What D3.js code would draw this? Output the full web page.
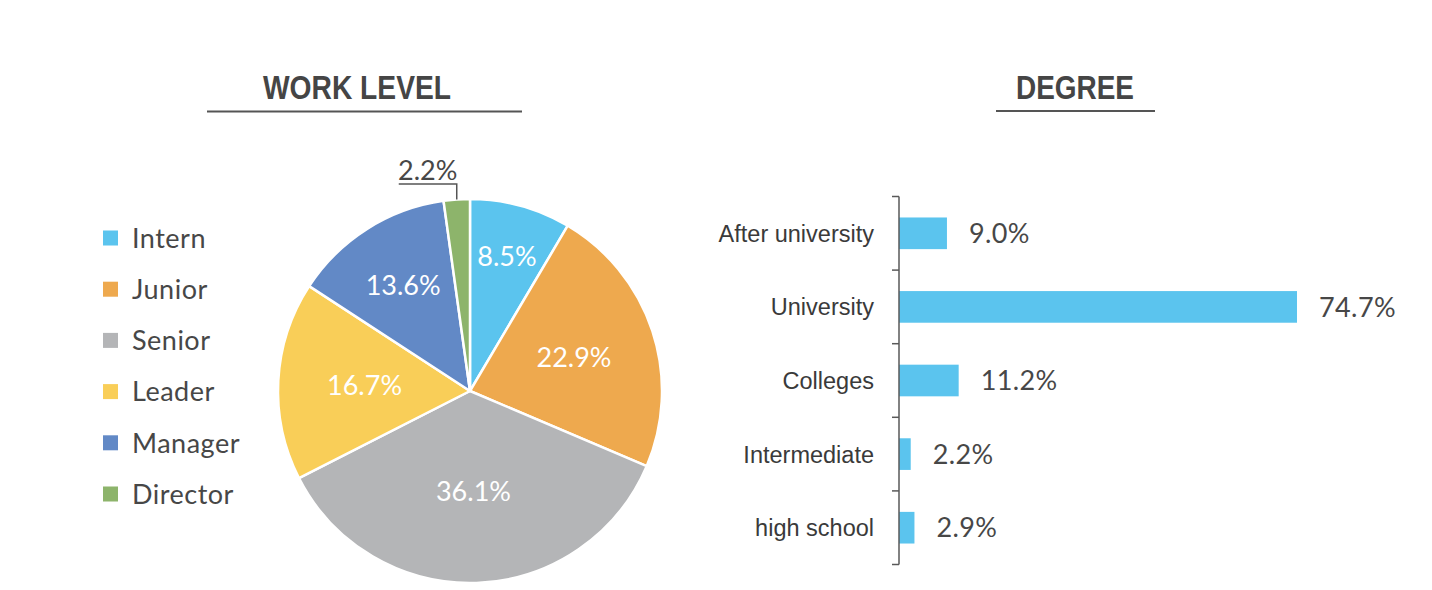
<!DOCTYPE html>
<html>
<head>
<meta charset="utf-8">
<script src="https://cdn.jsdelivr.net/npm/d3@7"></script>
<style>
  html, body { margin: 0; padding: 0; background: #fff; }
  svg { display: block; }
</style>
</head>
<body>
<svg id="chart" width="1432" height="590"></svg>
<script>
// ---- Data ----
const levelCategories = ["Intern", "Junior", "Senior", "Leader", "Manager", "Director"];
const levelValues = [8.5, 22.9, 36.1, 16.7, 13.6, 2.2];
const levelColors = ["#5BC4EE", "#EEA94E", "#B4B5B7", "#F9CE58", "#6289C6", "#8DB46B"];

const degreeCategories = ["After university", "University", "Colleges", "Intermediate", "high school"];
const degreeValues = [9.0, 74.7, 11.2, 2.2, 2.9];

const titles = ["WORK LEVEL", "DEGREE"];

// ---- Styles / layout ----
const roundFont = "Lato, 'Noto Sans', sans-serif";
const roundWeight = 400;
const textColor = "#474747";
const labelRadiusFrac = [0.73, 0.57, 0.52, 0.55, 0.65, 1.0];

const svg = d3.select("#chart");

// ---- Titles ----
function title(text, cx, baseline, width, lineX1, lineX2, lineY) {
  svg.append("text")
    .attr("x", cx).attr("y", baseline)
    .attr("text-anchor", "middle")
    .attr("font-family", "'Liberation Sans', Arial, sans-serif")
    .attr("font-weight", "bold")
    .attr("font-size", 33)
    .attr("fill", "#454545")
    .attr("textLength", width)
    .attr("lengthAdjust", "spacingAndGlyphs")
    .text(text);
  svg.append("line")
    .attr("x1", lineX1).attr("x2", lineX2)
    .attr("y1", lineY).attr("y2", lineY)
    .attr("stroke", "#555").attr("stroke-width", 2);
}
title(titles[0], 357, 99, 188, 207, 522, 111.5);
title(titles[1], 1075, 98.5, 118, 996, 1155, 111);

// ---- Pie ----
const cx = 470, cy = 391, R = 192;
const pie = d3.pie().sort(null).value(d => d.v);
const pieData = pie(levelCategories.map((c, i) => ({ c, v: levelValues[i], i })));
const arc = d3.arc().innerRadius(0).outerRadius(R);

const pg = svg.append("g").attr("transform", `translate(${cx},${cy})`);
pg.selectAll("path.slice")
  .data(pieData)
  .join("path")
  .attr("class", "slice")
  .attr("d", arc)
  .attr("fill", d => levelColors[d.data.i])
  .attr("stroke", "#fff")
  .attr("stroke-width", 2.5)
  .attr("stroke-linejoin", "round");

// inside labels
pg.selectAll("text.inlabel")
  .data(pieData.filter(d => d.data.v > 5))
  .join("text")
  .attr("class", "inlabel")
  .attr("transform", d => {
    const a = (d.startAngle + d.endAngle) / 2;
    const r = R * labelRadiusFrac[d.data.i];
    return `translate(${r * Math.sin(a)},${-r * Math.cos(a)})`;
  })
  .attr("text-anchor", "middle")
  .attr("dy", "0.36em")
  .attr("font-family", roundFont)
  .attr("font-weight", roundWeight)
  .attr("font-size", 27)
  .attr("fill", "#fff")
  .text(d => d.data.v.toFixed(1) + "%");

// outside label for small slice with leader line
pieData.filter(d => d.data.v <= 5).forEach(d => {
  const a = (d.startAngle + d.endAngle) / 2;
  const ex = R * Math.sin(a), ey = -R * Math.cos(a);
  const ly = ey - 15.5;
  pg.append("path")
    .attr("d", `M${ex},${ey} L${ex},${ly} L${ex - 58},${ly}`)
    .attr("fill", "none")
    .attr("stroke", "#555")
    .attr("stroke-width", 1.5);
  pg.append("text")
    .attr("x", ex - 29).attr("y", ly - 4)
    .attr("text-anchor", "middle")
    .attr("font-family", roundFont)
    .attr("font-weight", roundWeight)
    .attr("font-size", 27)
    .attr("fill", textColor)
    .text(d.data.v.toFixed(1) + "%");
});

// ---- Legend ----
const legendY = d3.scalePoint().domain(levelCategories).range([238, 494]);
const lg = svg.append("g");
const items = lg.selectAll("g.item")
  .data(levelCategories)
  .join("g")
  .attr("class", "item")
  .attr("transform", d => `translate(103,${legendY(d)})`);
items.append("rect")
  .attr("x", 0).attr("y", -7.5)
  .attr("width", 15).attr("height", 15)
  .attr("fill", (d, i) => levelColors[i]);
items.append("text")
  .attr("x", 29).attr("dy", "0.36em")
  .attr("font-family", roundFont)
  .attr("font-weight", roundWeight)
  .attr("font-size", 27)
  .attr("letter-spacing", 0.5)
  .attr("fill", textColor)
  .text(d => d);

// ---- Bar chart ----
const axisX = 899;
const x = d3.scaleLinear().domain([0, 74.7]).range([axisX, 1297]);
const y = d3.scaleBand().domain(degreeCategories).range([196.5, 564.5]).paddingInner(0.57).paddingOuter(0.285);

const bg = svg.append("g");
bg.selectAll("rect.bar")
  .data(degreeCategories)
  .join("rect")
  .attr("class", "bar")
  .attr("x", x(0))
  .attr("y", d => y(d))
  .attr("width", (d, i) => x(degreeValues[i]) - x(0))
  .attr("height", y.bandwidth())
  .attr("fill", "#5BC4EE");

bg.selectAll("text.val")
  .data(degreeCategories)
  .join("text")
  .attr("class", "val")
  .attr("x", (d, i) => x(degreeValues[i]) + 22)
  .attr("y", d => y(d) + y.bandwidth() / 2)
  .attr("dy", "0.36em")
  .attr("font-family", roundFont)
  .attr("font-weight", roundWeight)
  .attr("font-size", 27)
  .attr("letter-spacing", 0.4)
  .attr("fill", textColor)
  .text((d, i) => degreeValues[i].toFixed(1) + "%");

// axis line + boundary ticks
const boundaries = d3.range(degreeCategories.length + 1).map(k => 196.5 + k * (564.5 - 196.5) / degreeCategories.length);
bg.append("line")
  .attr("x1", axisX).attr("x2", axisX)
  .attr("y1", boundaries[0]).attr("y2", boundaries[boundaries.length - 1])
  .attr("stroke", "#595959").attr("stroke-width", 1.5);
bg.selectAll("line.tick")
  .data(boundaries)
  .join("line")
  .attr("class", "tick")
  .attr("x1", axisX - 7).attr("x2", axisX)
  .attr("y1", d => d).attr("y2", d => d)
  .attr("stroke", "#595959").attr("stroke-width", 1.5);

bg.selectAll("text.cat")
  .data(degreeCategories)
  .join("text")
  .attr("class", "cat")
  .attr("x", 874)
  .attr("y", d => y(d) + y.bandwidth() / 2)
  .attr("dy", "0.36em")
  .attr("text-anchor", "end")
  .attr("font-family", "'Liberation Sans', Arial, sans-serif")
  .attr("font-size", 23.5)
  .attr("fill", "#3a3a3a")
  .text(d => d);
</script>
</body>
</html>
